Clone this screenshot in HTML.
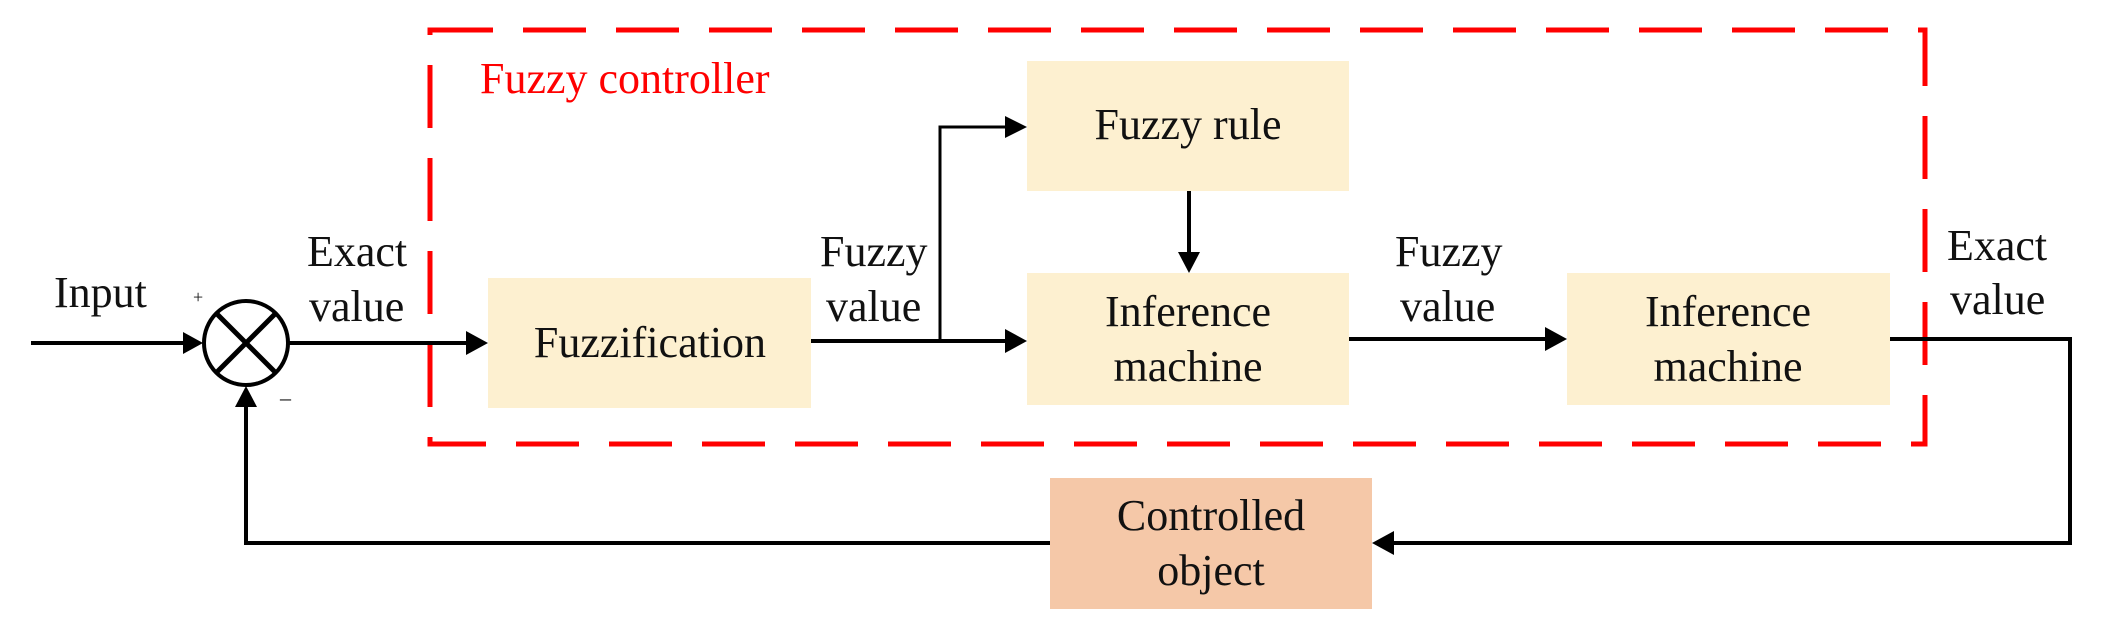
<!DOCTYPE html>
<html><head><meta charset="utf-8"><style>
html,body{margin:0;padding:0;background:#fff;}
svg{display:block;}
text{font-family:"Liberation Serif",serif;font-size:44px;fill:#111;}
</style></head><body>
<svg width="2102" height="637" viewBox="0 0 2102 637" xmlns="http://www.w3.org/2000/svg">
<rect x="430" y="30" width="1495" height="414" fill="none" stroke="#ff0000" stroke-width="5" stroke-dasharray="63,30"/>
<text x="480" y="93" style="fill:#ff0000;font-size:44px">Fuzzy controller</text>

<rect x="488" y="278" width="323" height="130" fill="#fdf0d0"/>
<rect x="1027" y="61" width="322" height="130" fill="#fdf0d0"/>
<rect x="1027" y="273" width="322" height="132" fill="#fdf0d0"/>
<rect x="1567" y="273" width="323" height="132" fill="#fdf0d0"/>
<rect x="1050" y="478" width="322" height="131" fill="#f5c8a8"/>

<text x="650" y="357" text-anchor="middle">Fuzzification</text>
<text x="1188" y="139" text-anchor="middle">Fuzzy rule</text>
<text x="1188" y="326" text-anchor="middle">Inference</text>
<text x="1188" y="381" text-anchor="middle">machine</text>
<text x="1728" y="326" text-anchor="middle">Inference</text>
<text x="1728" y="381" text-anchor="middle">machine</text>
<text x="1211" y="530" text-anchor="middle">Controlled</text>
<text x="1211" y="585" text-anchor="middle">object</text>

<text x="54" y="307">Input</text>
<text x="307" y="266">Exact</text>
<text x="309" y="321">value</text>
<text x="820" y="266">Fuzzy</text>
<text x="826" y="321">value</text>
<text x="1395" y="266">Fuzzy</text>
<text x="1400" y="321">value</text>
<text x="1947" y="260">Exact</text>
<text x="1950" y="314">value</text>
<text x="193" y="303" style="font-size:18px">+</text>
<text x="280" y="405" style="font-size:22px">–</text>

<circle cx="246" cy="343" r="42" fill="#fff" stroke="#000" stroke-width="4"/>
<line x1="217" y1="314" x2="275" y2="372" stroke="#000" stroke-width="5"/>
<line x1="275" y1="314" x2="217" y2="372" stroke="#000" stroke-width="5"/>

<g stroke="#000" stroke-width="4" fill="none">
<line x1="31" y1="343" x2="186" y2="343"/>
<line x1="288" y1="343" x2="470" y2="343"/>
<line x1="811" y1="341" x2="1010" y2="341"/>
<polyline points="940,341 940,127 1010,127" stroke-width="3"/>
<line x1="1189" y1="191" x2="1189" y2="256"/>
<line x1="1349" y1="339" x2="1550" y2="339"/>
<polyline points="1890,339 2070,339 2070,543 1390,543"/>
<polyline points="1050,543 246,543 246,402"/>
</g>
<g fill="#000">
<polygon points="203,343 183,332 183,354"/>
<polygon points="488,343 466,331 466,355"/>
<polygon points="1027,341 1005,329 1005,353"/>
<polygon points="1027,127 1005,116 1005,138"/>
<polygon points="1189,273 1178,252 1200,252"/>
<polygon points="1567,339 1545,327 1545,351"/>
<polygon points="1372,543 1394,531 1394,555"/>
<polygon points="246,386 235,407 257,407"/>
</g>
</svg>
</body></html>
